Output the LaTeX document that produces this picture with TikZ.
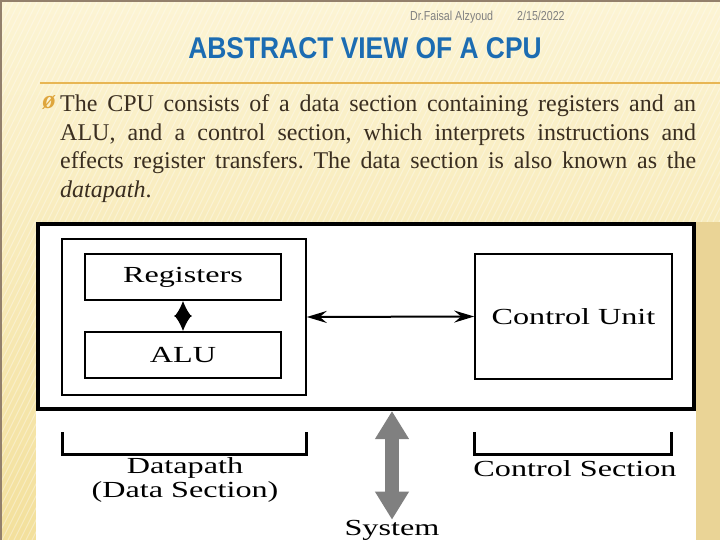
\documentclass[tikz,border=0pt]{standalone}
\usepackage{fontspec}
\usepackage{xcolor}
\setmainfont{Liberation Serif}
\newfontfamily\headfont{Liberation Sans}[FakeStretch=0.82]
\newfontfamily\titlefont{Liberation Sans Bold}[FakeStretch=0.88]
\newfontfamily\diagfont{Liberation Serif}[FakeStretch=1.4]
\usetikzlibrary{arrows.meta,positioning}

\definecolor{bgtop}{RGB}{252,244,212}
\definecolor{bgbot}{RGB}{243,224,156}
\definecolor{striptan}{RGB}{234,212,150}
\definecolor{titleblue}{RGB}{28,108,178}
\definecolor{bodyink}{RGB}{58,46,32}
\definecolor{bulletorange}{RGB}{222,165,60}
\definecolor{ruleorange}{RGB}{232,182,84}
\definecolor{sysgray}{RGB}{128,128,128}

\tikzset{
  unitbox/.style={draw=black, line width=1.6pt, inner sep=0pt, font=\diagfont\fontsize{23}{26}\selectfont},
  bracket/.style={line width=3pt},
  difflabel/.style={font=\diagfont\fontsize{23}{23}\selectfont, align=center, inner sep=0pt}
}

\begin{document}
\begin{tikzpicture}[x=1pt, y=-1pt]
  \useasboundingbox (0,0) rectangle (720,540);
  % slide background
  \shade[top color=bgtop, bottom color=bgbot] (0,0) rectangle (720,540);
  \begin{scope}
    \clip (0,0) rectangle (720,540);
    \foreach \s in {-280,-274,...,720}
      \draw[white, opacity=.35, line width=1pt] (\s,540) -- (\s+270,0);
  \end{scope}
  \fill[striptan] (696,222) rectangle (720,540);
  \draw[gray!70!brown, line width=2pt] (1,540) -- (1,1) -- (720,1);
  \draw[ruleorange, line width=1.2pt] (40,83) -- (720,83);

  % header and title
  \node[anchor=base west, inner sep=0pt, text=sysgray, font=\headfont\fontsize{13}{13}\selectfont] (author) at (410,21) {Dr.Faisal Alzyoud};
  \node[anchor=base west, inner sep=0pt, text=sysgray, font=\headfont\fontsize{13}{13}\selectfont] (date) at (517,21) {2/15/2022};
  \node[inner sep=0pt, text=titleblue, font=\titlefont\fontsize{30}{30}\selectfont] (title) at (365,48) {ABSTRACT VIEW OF A CPU};

  % body text
  \node[inner sep=0pt, text=bulletorange, font=\bfseries\itshape\fontsize{26}{26}\selectfont] (bullet) at (49,103) {ø};
  \node[anchor=north west, inner sep=0pt, text width=636pt, text=bodyink,
        font=\frenchspacing\fontsize{24}{28.7}\selectfont, align=justify] (body) at (60,94.5)
    {The CPU consists of a data section containing registers and an\linebreak
     ALU, and a control section, which interprets instructions and\linebreak
     effects register transfers. The data section is also known as the\linebreak
     \textit{datapath}.};

  % diagram
  \fill[white] (36,222) rectangle (696,540);
  \node[draw=black, line width=3.5pt, minimum width=656pt, minimum height=185pt, inner sep=0pt] (cpu) at (366,316.5) {};
  \node[unitbox, minimum width=244pt, minimum height=156pt] (dpbox) at (184,317) {};
  \node[unitbox, minimum width=196pt, minimum height=46pt] (regs) at (183,277) {Registers};
  \node[unitbox, minimum width=196pt, minimum height=46pt] (alu) at (183,355) {ALU};
  \node[unitbox, minimum width=197pt, minimum height=125pt] (cu) at (573.5,316.5) {Control Unit};

  \draw[line width=3pt, {Latex[length=16pt,width=18pt]}-{Latex[length=16pt,width=18pt]}] (regs) -- (alu);
  \draw[line width=2pt, {Stealth[length=20pt,width=12pt,inset=7pt]}-{Stealth[length=20pt,width=12pt,inset=7pt]}] (dpbox.east) -- (cu.west);

  % brackets and labels
  \draw[bracket] (62,432) -- (62,454) -- (306,454) -- (306,432);
  \draw[bracket] (474,432) -- (474,454) -- (671,454) -- (671,432);
  \node[difflabel] (dplabel) at (185,480) {Datapath\\[1pt](Data Section)};
  \node[difflabel] (cslabel) at (575,469) {Control Section};
  \node[difflabel] (system) at (392,530) {System};
  \coordinate (bus) at (392,411);
  \draw[sysgray, line width=14pt, {Triangle[length=28pt,width=32pt]}-{Triangle[length=28pt,width=32pt]}] (bus) -- (system.north);
\end{tikzpicture}
\end{document}
